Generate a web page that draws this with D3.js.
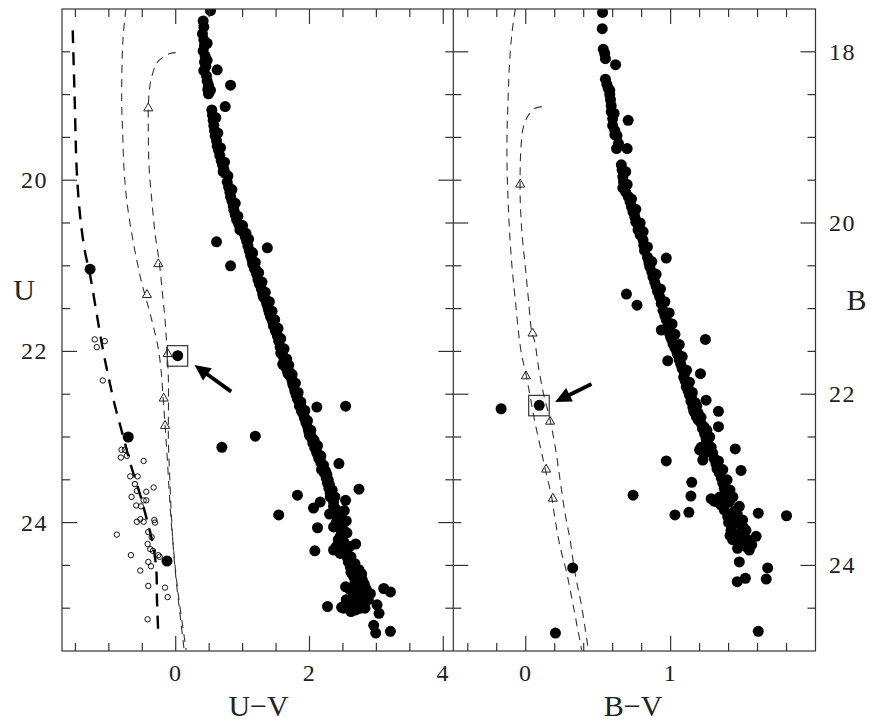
<!DOCTYPE html>
<html><head><meta charset="utf-8">
<script src="https://cdn.jsdelivr.net/npm/d3@7"></script>
<style>
body{margin:0;background:#fff}
svg{display:block}
text{font-family:"Liberation Serif","Times New Roman",serif;fill:#222}
</style>
</head><body><svg id="c" width="873" height="723"></svg>
<script>
// ---------------- DATA ----------------
// Left panel: U vs U-V
const uvTicks = [-1.5,-1,-0.5,0,0.5,1,1.5,2,2.5,3,3.5,4];
const uvTickLabels = [0,2,4];
const uTicks = [18.5,19,19.5,20,20.5,21,21.5,22,22.5,23,23.5,24,24.5,25];
const uTickLabels = [20,22,24];
// Right panel: B vs B-V
const bvTicks = [-0.4,-0.2,0,0.2,0.4,0.6,0.8,1,1.2,1.4,1.6,1.8];
const bvTickLabels = [0,1];
const bTicks = [18,18.5,19,19.5,20,20.5,21,21.5,22,22.5,23,23.5,24,24.5];
const bTickLabels = [18,20,22,24];

const leftFilled = [
[0.52,18.02],[0.41,18.14],[0.42,18.21],[0.40,18.29],[0.42,18.36],[0.43,18.43],[0.41,18.49],[0.44,18.55],[0.43,18.62],[0.45,18.67],[0.42,18.72],[0.46,18.78],[0.47,18.84],[0.49,18.89],[0.48,18.94],[0.49,18.99],
[0.62,18.71],[0.82,18.89],[0.74,19.14],
[0.54,19.18],[0.55,19.24],[0.56,19.30],[0.57,19.36],[0.58,19.42],[0.59,19.48],[0.61,19.54],[0.62,19.60],[0.64,19.65],[0.66,19.71],[0.68,19.77],[0.70,19.82],[0.72,19.87],[0.74,19.92],[0.71,19.90],[0.77,20.02],[0.79,20.08],[0.81,20.14],[0.82,20.19],[0.84,20.24],[0.86,20.30],[0.87,20.35],[0.89,20.40],[0.91,20.46],[0.94,20.51],[0.97,20.55],[1.00,20.60],[1.04,20.66],[1.06,20.71],[1.08,20.77],[1.10,20.82],[1.12,20.88],[1.14,20.93],[1.15,20.98],[1.18,21.04],[1.21,21.10],[1.23,21.16],[1.25,21.21],[1.28,21.27],[1.30,21.33],[1.33,21.38],[1.36,21.44],[1.38,21.49],[1.40,21.55],[1.42,21.60],[1.45,21.65],[1.47,21.70],[1.49,21.76],[1.52,21.82],[1.54,21.88],[1.56,21.95],[1.58,22.00],[1.61,22.06],[1.62,22.12],[1.64,22.18],[1.67,22.23],[1.71,22.29],[1.74,22.34],[1.76,22.40],[1.78,22.46],[1.80,22.51],[1.83,22.57],[1.86,22.62],[1.89,22.67],[1.91,22.73],[1.93,22.79],[1.95,22.84],[1.98,22.90],[2.01,22.96],[2.03,23.01],[2.05,23.07],[2.08,23.13],[2.11,23.19],[2.14,23.25],[2.17,23.30],[2.20,23.36],[2.22,23.42],[2.25,23.48],[2.27,23.54],[2.29,23.60],[2.31,23.66],
[1.05,20.62],[1.13,20.84],[1.20,21.05],[1.27,21.22],[1.35,21.40],[1.39,21.52],[1.44,21.62],[1.51,21.78],[1.57,22.02],[1.60,22.15],[1.70,22.24],[1.75,22.38],[1.82,22.55],[1.88,22.70],[1.92,22.76],[1.99,22.94],[2.05,23.02],[2.10,23.15],[2.16,23.27],[2.24,23.40],[2.28,23.50],
[0.47,18.40],[0.47,18.60],[0.52,18.95],[0.60,19.27],[0.63,19.45],[0.67,19.62],[0.73,19.79],[0.78,19.95],[0.84,20.11],[0.89,20.27],[0.93,20.42],[1.00,20.53],[1.09,20.69],[1.15,20.85],[1.19,20.96],[1.24,21.08],[1.29,21.19],[1.34,21.31],[1.40,21.42],[1.44,21.53],[1.48,21.63],[1.53,21.73],[1.57,21.85],[1.62,21.97],[1.66,22.09],[1.69,22.16],[1.74,22.27],[1.79,22.37],[1.83,22.48],[1.87,22.59],[1.93,22.69],[1.97,22.81],[2.02,22.92],[2.07,23.04],[2.12,23.10],[2.17,23.22],[2.21,23.33],[2.26,23.44],[2.30,23.56],[2.34,23.62],[2.38,23.70],
[0.96,20.58],[1.17,21.00],[1.31,21.36],[1.46,21.70],[1.68,22.26],[1.85,22.64],[2.00,22.98],[2.18,23.38],
[2.31,23.70],[2.36,23.76],[2.36,23.81],[2.39,23.84],[2.46,23.89],[2.41,23.92],[2.45,23.95],[2.42,23.97],[2.40,24.00],[2.48,24.02],[2.45,24.05],[2.51,24.09],[2.48,24.12],[2.46,24.16],[2.50,24.20],[2.43,24.20],[2.52,24.24],[2.40,24.28],[2.50,24.30],[2.36,24.32],[2.55,24.35],[2.46,24.36],[2.56,24.40],[2.58,24.46],[2.61,24.52],[2.74,24.55],[2.62,24.58],[2.70,24.60],[2.66,24.63],[2.79,24.67],[2.68,24.70],[2.74,24.74],[2.54,24.75],[2.60,24.78],[2.76,24.79],[2.85,24.78],[2.66,24.83],[2.91,24.83],[2.70,24.85],[2.80,24.88],[2.61,24.90],[2.71,24.94],[2.65,24.96],[2.58,24.98],[2.51,25.00],[2.76,25.00],[2.69,25.02],[2.48,24.99],
[2.52,23.86],[2.55,23.98],[2.56,24.12],[2.60,24.28],[2.62,24.40],[2.68,24.48],[2.78,24.60],[2.82,24.72],[2.88,24.90],[2.74,24.90],[2.83,25.00],[2.62,25.04],[2.55,24.90],[2.45,24.25],[2.36,24.05],[2.30,23.90],
[3.01,24.96],[3.04,25.06],[2.96,25.20],[2.99,25.29],[3.21,25.27],[3.11,24.77],[3.21,24.81],[2.27,24.98],
[0.61,20.72],[0.82,21.00],[1.37,20.79],[2.11,22.65],[2.54,22.64],[1.19,22.99],[0.69,23.12],[2.44,23.31],[2.74,23.61],[1.82,23.68],[1.54,23.91],[2.12,24.06],[2.69,24.25],[2.08,24.33],[2.16,23.76],[2.06,23.83],[2.54,23.74],
[-1.28,21.04],[-0.71,23.00],[-0.13,24.45]
];
const leftOpen = [
[-1.21,21.86],[-1.06,21.88],[-1.18,21.95],[-1.09,22.34],[-0.81,23.15],[-0.76,23.15],[-0.82,23.24],[-0.73,23.22],[-0.48,23.28],[-0.68,23.46],[-0.57,23.46],[-0.61,23.55],[-0.58,23.63],[-0.44,23.64],[-0.33,23.59],[-0.66,23.70],[-0.48,23.74],[-0.44,23.74],[-0.59,23.80],[-0.52,23.81],[-0.58,23.99],[-0.53,23.96],[-0.48,23.99],[-0.32,23.97],[-0.31,24.00],[-0.88,24.14],[-0.41,24.11],[-0.36,24.17],[-0.42,24.25],[-0.38,24.31],[-0.34,24.33],[-0.26,24.38],[-0.67,24.38],[-0.41,24.46],[-0.37,24.51],[-0.53,24.56],[-0.41,24.74],[-0.16,24.76],[-0.12,24.87],[-0.42,25.13],[-0.24,24.40]
];
const leftTriangles = [[-0.41,19.15],[-0.26,20.97],[-0.43,21.33],[-0.12,22.02],[-0.18,22.54],[-0.16,22.86]];
const leftMarked = [0.03,22.05];
const leftArrow = [[0.83,22.47],[0.28,22.16]];
const leftLineA = [[-1.54,18.25],[-1.51,19.06],[-1.48,19.88],[-1.43,20.41],[-1.36,20.82],[-1.28,21.11],[-1.19,21.52],[-1.10,21.93],[-1.01,22.28],[-0.91,22.63],[-0.79,22.98],[-0.67,23.33],[-0.53,23.68],[-0.43,23.97],[-0.34,24.26],[-0.29,24.55],[-0.28,24.90],[-0.26,25.31]];
const leftLineB = [[-0.744,18.00],[-0.789,18.36],[-0.808,19.06],[-0.793,19.45],[-0.774,19.85],[-0.733,20.23],[-0.658,20.62],[-0.583,20.93],[-0.508,21.20],[-0.409,21.48],[-0.334,21.71],[-0.264,21.95],[-0.219,22.22],[-0.189,22.53],[-0.159,22.86],[-0.129,23.21],[-0.099,23.62],[-0.069,23.97],[-0.024,24.38],[0.021,24.73],[0.081,25.08],[0.156,25.49]];
const leftLineC = [[0.0,18.51],[-0.084,18.52],[-0.184,18.56],[-0.283,18.63],[-0.358,18.79],[-0.394,18.95],[-0.409,19.14],[-0.409,19.45],[-0.399,19.84],[-0.358,20.23],[-0.309,20.62],[-0.244,20.97],[-0.199,21.32],[-0.159,21.63],[-0.133,21.95],[-0.109,22.33],[-0.109,23.04],[-0.091,23.44],[-0.069,23.85],[-0.039,24.26],[0.006,24.67],[0.066,25.08],[0.126,25.49]];

const rightFilled = [
[0.53,17.54],[0.528,17.73],[0.535,17.97],[0.545,18.02],[0.55,18.08],[0.62,18.15],[0.55,18.32],[0.56,18.38],[0.57,18.43],[0.58,18.50],[0.585,18.56],[0.59,18.63],[0.59,18.70],[0.60,18.78],[0.60,18.86],[0.615,18.92],[0.615,18.97],[0.64,19.07],[0.627,19.13],[0.70,19.13],[0.707,18.80],
[0.66,19.32],[0.665,19.38],[0.67,19.46],[0.675,19.52],[0.67,19.59],[0.69,19.64],[0.707,19.69],[0.72,19.75],[0.73,19.81],[0.74,19.87],[0.753,19.93],[0.76,19.99],[0.78,20.03],[0.775,20.08],[0.79,20.14],[0.81,20.20],[0.815,20.26],[0.82,20.32],[0.84,20.40],[0.85,20.46],[0.856,20.51],[0.87,20.57],[0.878,20.63],[0.89,20.69],[0.90,20.74],[0.91,20.80],[0.924,20.86],[0.935,20.94],[0.947,21.02],[0.96,21.08],[0.97,21.13],[0.98,21.21],[0.936,21.25],[0.99,21.25],[0.993,21.29],[1.00,21.33],[1.005,21.35],[1.016,21.41],[1.03,21.46],[1.04,21.48],[1.045,21.52],[1.05,21.54],[1.06,21.60],[1.07,21.65],[1.08,21.70],[1.096,21.76],[1.09,21.80],[1.10,21.84],[1.108,21.91],[1.12,21.92],[1.12,21.96],[1.13,22.01],[1.145,22.05],[1.14,22.08],[1.17,22.10],[1.153,22.15],[1.16,22.20],[1.19,22.22],[1.177,22.26],[1.19,22.30],[1.21,22.34],[1.23,22.38],[1.22,22.40],[1.234,22.46],[1.245,22.52],[1.25,22.55],[1.256,22.57],[1.21,22.62],[1.20,22.65],[1.24,22.68],[1.29,22.69],[1.23,22.70],[1.30,22.75],[1.222,22.77],[1.313,22.81],[1.32,22.87],[1.336,22.92],[1.35,22.98],[1.36,23.04],[1.37,23.10],[1.383,23.16],[1.34,23.20],[1.28,23.22],[1.39,23.22],[1.30,23.25],[1.325,23.26],[1.405,23.26],[1.35,23.30],[1.474,23.31],[1.37,23.35],[1.44,23.37],[1.394,23.43],[1.43,23.45],[1.497,23.47],[1.40,23.50],[1.462,23.51],[1.417,23.59],[1.52,23.59],[1.474,23.63],[1.45,23.65],[1.41,23.65],[1.59,23.66],[1.428,23.70],[1.48,23.72],[1.50,23.75],[1.52,23.78],[1.462,23.80],[1.543,23.82],
[0.58,18.45],[0.61,18.72],[0.63,18.98],[0.69,19.40],[0.70,19.55],[0.73,19.72],[0.76,19.84],[0.79,20.00],[0.81,20.10],[0.84,20.28],[0.87,20.45],[0.90,20.60],[0.93,20.77],[0.96,20.92],[0.99,21.05],[1.01,21.18],[1.03,21.30],[1.06,21.42],[1.08,21.56],[1.11,21.72],[1.13,21.86],[1.15,21.98],[1.18,22.14],[1.21,22.27],[1.25,22.42],[1.27,22.50],[1.28,22.62],[1.33,22.78],[1.36,22.88],[1.39,23.00],[1.41,23.12],[1.43,23.20],[1.46,23.40],[1.50,23.55],[1.53,23.70],[1.56,23.76],
[0.97,20.41],[0.695,20.83],[0.768,20.96],[1.24,21.36],[0.98,21.61],[1.206,21.76],[1.245,22.07],[1.33,22.20],[1.33,22.38],[1.446,22.64],[1.486,22.89],[0.97,22.78],[1.146,23.03],[1.14,23.19],[1.126,23.38],[1.03,23.41],[1.605,23.39],[1.80,23.42],[1.474,23.96],[1.67,24.03],[1.66,24.16],[1.46,24.19],[1.516,24.15],[1.605,24.77],[0.741,23.18],
[-0.17,22.17],[0.324,24.03],[0.205,24.79]
];
const rightTriangles = [[-0.038,19.54],[0.047,21.28],[0.001,21.78],[0.168,22.31],[0.141,22.87],[0.187,23.21]];
const rightMarked = [0.093,22.13];
const rightArrow = [[0.454,21.88],[0.203,22.09]];
const rightLineD = [[-0.072,17.50],[-0.095,17.78],[-0.113,18.17],[-0.122,18.56],[-0.129,18.95],[-0.129,19.34],[-0.122,19.73],[-0.111,20.12],[-0.095,20.51],[-0.072,20.90],[-0.049,21.29],[-0.026,21.56],[0.001,21.76],[0.031,22.03],[0.065,22.34],[0.100,22.61],[0.134,22.87],[0.180,23.21],[0.203,23.47],[0.237,23.78],[0.283,24.09],[0.329,24.48],[0.386,24.99]];
const rightLineE = [[0.111,18.64],[0.065,18.66],[0.019,18.74],[-0.015,18.87],[-0.031,19.07],[-0.038,19.34],[-0.038,19.73],[-0.026,20.12],[-0.003,20.51],[0.019,20.90],[0.043,21.29],[0.060,21.37],[0.088,21.68],[0.122,21.99],[0.168,22.30],[0.203,22.61],[0.237,23.00],[0.271,23.39],[0.306,23.70],[0.340,24.09],[0.386,24.48],[0.432,24.99]];

// ---------------- LAYOUT ----------------
const svg = d3.select('#c');
const yTop = 9, yBot = 651, xLeft = 62, xMid = 453.3, xRight = 815.5;
const xL = d3.scaleLinear().domain([-1.7,4.15]).range([xLeft,xMid]);
const yL = d3.scaleLinear().domain([18,25.5]).range([yTop,yBot]);
const xR = d3.scaleLinear().domain([-0.5,2.0]).range([xMid,xRight]);
const yR = d3.scaleLinear().domain([17.5,25]).range([yTop,yBot]);

const defs = svg.append('defs');
defs.append('clipPath').attr('id','clipL').append('rect').attr('x',xLeft).attr('y',yTop).attr('width',xMid-xLeft).attr('height',yBot-yTop);
defs.append('clipPath').attr('id','clipR').append('rect').attr('x',xMid).attr('y',yTop).attr('width',xRight-xMid).attr('height',yBot-yTop);

function panel(clip, xs, ys, o) {
  const g = svg.append('g').attr('clip-path', `url(#${clip})`);
  const line = d3.line().x(d=>xs(d[0])).y(d=>ys(d[1])).curve(d3.curveCatmullRom.alpha(0.5));
  o.lines.forEach(l => {
    g.append('path').attr('d', line(l.data)).attr('fill','none')
      .attr('stroke', l.color).attr('stroke-width', l.w).attr('stroke-dasharray', l.dash);
  });
  if (o.open) g.selectAll('circle.o').data(o.open).join('circle').attr('class','o')
    .attr('cx',d=>xs(d[0])).attr('cy',d=>ys(d[1])).attr('r',2.7)
    .attr('fill','none').attr('stroke','#111').attr('stroke-width',1);
  const tri = d3.symbol().type(d3.symbolTriangle).size(36);
  g.selectAll('path.t').data(o.tri).join('path').attr('class','t')
    .attr('d', tri).attr('transform', d=>`translate(${xs(d[0])},${ys(d[1])+0.8})`)
    .attr('fill','none').attr('stroke','#222').attr('stroke-width',1);
  g.selectAll('circle.f').data(o.filled.concat([o.marked])).join('circle').attr('class','f')
    .attr('cx',d=>xs(d[0])).attr('cy',d=>ys(d[1])).attr('r',5.5).attr('fill','#000');
  const mx = xs(o.marked[0]), my = ys(o.marked[1]);
  g.append('rect').attr('x',mx-10.5).attr('y',my-10).attr('width',20.5).attr('height',20.5)
    .attr('fill','none').attr('stroke','#222').attr('stroke-width',1.1);
  const [t, h] = o.arrow;
  const tx = xs(t[0]), ty = ys(t[1]), hx = xs(h[0]), hy = ys(h[1]);
  const ang = Math.atan2(hy-ty, hx-tx), AL = 16, AW = 7.5;
  const bx = hx - AL*Math.cos(ang), by = hy - AL*Math.sin(ang);
  g.append('line').attr('x1',tx).attr('y1',ty).attr('x2',bx+2*Math.cos(ang)).attr('y2',by+2*Math.sin(ang))
    .attr('stroke','#000').attr('stroke-width',3.8);
  g.append('path').attr('d', `M${hx},${hy}L${bx - AW*Math.sin(ang)},${by + AW*Math.cos(ang)}L${bx + AW*Math.sin(ang)},${by - AW*Math.cos(ang)}Z`)
    .attr('fill','#000');
}

panel('clipL', xL, yL, {
  lines: [
    {data: leftLineA, color:'#000', w:2.4, dash:'13,9'},
    {data: leftLineB, color:'#333', w:1.1, dash:'8,6'},
    {data: leftLineC, color:'#333', w:1.1, dash:'8,6'}
  ],
  open: leftOpen, tri: leftTriangles, filled: leftFilled, marked: leftMarked, arrow: leftArrow
});
panel('clipR', xR, yR, {
  lines: [
    {data: rightLineD, color:'#333', w:1.1, dash:'8,6'},
    {data: rightLineE, color:'#333', w:1.1, dash:'8,6'}
  ],
  open: null, tri: rightTriangles, filled: rightFilled, marked: rightMarked, arrow: rightArrow
});

// ---------------- FRAME & TICKS ----------------
const axisG = svg.append('g').attr('stroke','#333').attr('stroke-width',1.2).attr('fill','none');
axisG.append('rect').attr('x',xLeft).attr('y',yTop).attr('width',xRight-xLeft).attr('height',yBot-yTop);
axisG.append('line').attr('x1',xMid).attr('x2',xMid).attr('y1',yTop).attr('y2',yBot);

const MAJ = 15, MIN = 8;
function xTicks(xs, ticks, majors) {
  ticks.forEach(v => {
    const len = majors.includes(v) ? MAJ : MIN, x = xs(v);
    axisG.append('line').attr('x1',x).attr('x2',x).attr('y1',yBot).attr('y2',yBot-len);
    axisG.append('line').attr('x1',x).attr('x2',x).attr('y1',yTop).attr('y2',yTop+len);
  });
}
function yTicks(ys, ticks, majors, x0, x1) {
  ticks.forEach(v => {
    const len = majors.includes(v) ? MAJ : MIN, y = ys(v);
    axisG.append('line').attr('x1',x0).attr('x2',x0+len).attr('y1',y).attr('y2',y);
    axisG.append('line').attr('x1',x1).attr('x2',x1-len).attr('y1',y).attr('y2',y);
  });
}
xTicks(xL, uvTicks, uvTickLabels);
xTicks(xR, bvTicks, bvTickLabels);
yTicks(yL, uTicks, uTickLabels, xLeft, xMid);
yTicks(yR, bTicks, bTickLabels, xMid, xRight);

// ---------------- LABELS ----------------
const lab = svg.append('g').style('font-size','24px').style('letter-spacing','1.5px');
lab.selectAll('text.ux').data(uvTickLabels).join('text').attr('class','ux')
  .attr('x',d=>xL(d)).attr('y',681).attr('text-anchor','middle').text(d=>d);
lab.selectAll('text.bx').data(bvTickLabels).join('text').attr('class','bx')
  .attr('x',d=>xR(d)).attr('y',681).attr('text-anchor','middle').text(d=>d);
lab.selectAll('text.uy').data(uTickLabels).join('text').attr('class','uy')
  .attr('x',48).attr('y',d=>yL(d)+8).attr('text-anchor','end').text(d=>d);
lab.selectAll('text.by').data(bTickLabels).join('text').attr('class','by')
  .attr('x',829).attr('y',d=>yR(d)+8).attr('text-anchor','start').text(d=>d);

const ttl = svg.append('g').style('font-size','30px');
ttl.append('text').attr('x',24).attr('y',300).attr('text-anchor','middle').text('U');
ttl.append('text').attr('x',856.5).attr('y',310).attr('text-anchor','middle').text('B');
ttl.append('text').attr('x',258.5).attr('y',716).attr('text-anchor','middle').text('U\u2212V');
ttl.append('text').attr('x',633).attr('y',716).attr('text-anchor','middle').text('B\u2212V');
</script>
</body></html>
